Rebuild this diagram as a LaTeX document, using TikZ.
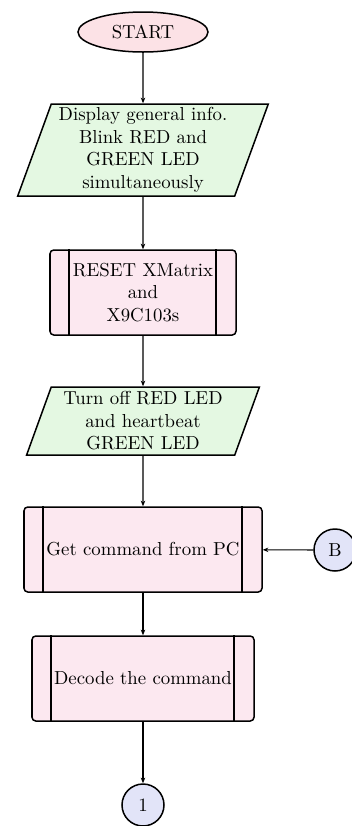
\documentclass[tikz,border=0pt]{standalone}
\usetikzlibrary{shapes.geometric,arrows.meta}
\definecolor{startfill}{RGB}{252,226,230}
\definecolor{iofill}{RGB}{228,248,226}
\definecolor{subfill}{RGB}{252,232,240}
\definecolor{connfill}{RGB}{226,228,248}
\tikzset{
  px/.style={x=0.532pt,y=-0.532pt},
  startbox/.style={ellipse,draw,line width=0.8pt,fill=startfill,
    minimum width={130*0.532pt},minimum height={40*0.532pt},inner sep=0pt},
  iobox/.style={trapezium,trapezium left angle=70,trapezium right angle=110,
    trapezium stretches=true,draw,line width=0.8pt,fill=iofill,align=center,inner sep=0pt},
  subbox/.style={rectangle,rounded corners=2pt,draw,line width=0.8pt,fill=subfill,
    align=center,minimum height={85*0.532pt},inner sep=0pt},
  connbox/.style={circle,draw,line width=0.8pt,fill=connfill,
    minimum size={42*0.532pt},inner sep=0pt},
  flow/.style={line width=0.6pt,-{Stealth[length=3pt,width=2.4pt]}},
  sideline/.style={line width=0.8pt}
}
\begin{document}
\begin{tikzpicture}[px]
\useasboundingbox (0,0) rectangle (352,826);

\node[startbox] (start) at (143,32) {START};

\node[iobox,minimum width={251*0.532pt},minimum height={92*0.532pt}] (info) at (143,150)
  {Display general info.\\Blink RED and\\GREEN LED\\simultaneously};

\node[subbox,minimum width={186*0.532pt}] (reset) at (143,292.5)
  {RESET XMatrix\\and\\X9C103s};

\node[iobox,minimum width={233*0.532pt},minimum height={68*0.532pt}] (leds) at (143,421)
  {Turn off RED LED\\and heartbeat\\GREEN LED};

\node[subbox,minimum width={238*0.532pt}] (getcmd) at (143,549.5)
  {Get command from PC};

\node[subbox,minimum width={222*0.532pt}] (decode) at (143,678.5)
  {Decode the command};

\node[connbox] (conB) at (335,550) {B};
\node[connbox] (con1) at (143,805) {1};

% inner side bars of the predefined-process boxes
\foreach \n in {reset,getcmd,decode}{
  \draw[sideline] ([xshift={20*0.532pt}]\n.north west) -- ([xshift={20*0.532pt}]\n.south west);
  \draw[sideline] ([xshift={-21*0.532pt}]\n.north east) -- ([xshift={-21*0.532pt}]\n.south east);
}

\draw[flow] (start) -- (info);
\draw[flow] (info) -- (reset);
\draw[flow] (reset) -- (leds);
\draw[flow] (leds) -- (getcmd);
\draw[flow] (getcmd) -- (decode);
\draw[flow] (decode) -- (con1);
\draw[flow] (conB) -- (getcmd);
\end{tikzpicture}
\end{document}
